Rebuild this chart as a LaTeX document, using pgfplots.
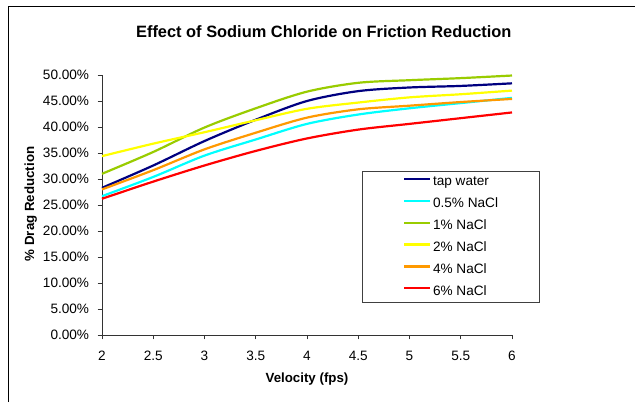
\documentclass[border=0pt]{standalone}
\usepackage{pgfplots}
\pgfplotsset{compat=1.18}
\usepackage{fontspec}
\setmainfont{Liberation Sans}
\definecolor{cNavy}{RGB}{0,0,128}
\definecolor{cCyan}{RGB}{0,255,255}
\definecolor{cGreen}{RGB}{153,204,0}
\definecolor{cYellow}{RGB}{255,255,0}
\definecolor{cOrange}{RGB}{255,153,0}
\definecolor{cRed}{RGB}{255,0,0}
\begin{document}
\begin{tikzpicture}
\useasboundingbox (0pt,0pt) rectangle (635pt,402pt);
\fill[white] (0pt,0pt) rectangle (635pt,402pt);
\draw[black, line width=1pt] (8.3pt,0pt) -- (8.3pt,395.3pt) -- (636pt,395.3pt);
\begin{axis}[
  at={(102pt,67pt)}, anchor=south west,
  scale only axis, width=410pt, height=260pt,
  xmin=2, xmax=6, ymin=0, ymax=50,
  axis x line=bottom, axis y line=left,
  axis line style={-, black!80, line width=0.8pt},
  tick style={black!80, line width=0.8pt},
  tick align=outside, major tick length=4.4pt,
  xtick={2,2.5,...,6}, ytick={0,5,...,50},
  /pgf/number format/assume math mode=true,
  tick label style={font=\fontsize{13.6}{15}\selectfont},
  yticklabel={\pgfmathprintnumber[fixed,fixed zerofill,precision=2]{\tick}\%},
  yticklabel style={xshift=-5pt},
  xticklabel style={/pgf/number format/fixed, yshift=-8pt},
  title={\bfseries Effect of Sodium Chloride on Friction Reduction},
  title style={font=\fontsize{16.4}{18}\selectfont, at={(rel axis cs:0.541,1.142)}, anchor=center},
  xlabel={\bfseries Velocity (fps)},
  ylabel={\bfseries \% Drag Reduction},
  label style={font=\fontsize{13.3}{15}\selectfont},
  xlabel style={at={(rel axis cs:0.5,-0.169)}, anchor=center},
  ylabel style={at={(rel axis cs:-0.174,0.504)}, anchor=center, rotate=0},
  legend style={at={(rel axis cs:0.634,0.631)}, anchor=north west,
    draw=black!75, line width=0.8pt, inner xsep=41pt, inner ysep=5pt,
    row sep=9.9pt, column sep=1.5pt,
    nodes={inner sep=0pt, text height=9.5pt, text depth=2.5pt, font=\fontsize{13.6}{15}\selectfont}},
  legend cell align=left,
  legend image code/.code={\draw[#1, line width=2.2pt] (0pt,3.5pt) -- (26pt,3.5pt);},
  every axis plot/.append style={line width=2.2pt, smooth, tension=0.5, mark=none},
  clip=false,
]
\addplot[cNavy] coordinates {(2,28.3) (2.5,32.6) (3,37.3) (3.5,41.4) (4,45.0) (4.5,46.9) (5,47.6) (5.5,47.9) (6,48.4)};
\addlegendentry{tap water}
\addplot[cCyan] coordinates {(2,26.7) (2.5,30.4) (3,34.5) (3.5,37.6) (4,40.6) (4.5,42.4) (5,43.6) (5.5,44.6) (6,45.6)};
\addlegendentry{0.5\% NaCl}
\addplot[cGreen] coordinates {(2,31.0) (2.5,35.2) (3,39.9) (3.5,43.6) (4,46.8) (4.5,48.5) (5,49.0) (5.5,49.4) (6,49.9)};
\addlegendentry{1\% NaCl}
\addplot[cYellow] coordinates {(2,34.4) (2.5,36.8) (3,39.0) (3.5,41.3) (4,43.5) (4.5,44.7) (5,45.7) (5.5,46.3) (6,47.0)};
\addlegendentry{2\% NaCl}
\addplot[cOrange] coordinates {(2,28.0) (2.5,31.7) (3,35.7) (3.5,38.9) (4,41.8) (4.5,43.4) (5,44.1) (5.5,44.8) (6,45.4)};
\addlegendentry{4\% NaCl}
\addplot[cRed] coordinates {(2,26.2) (2.5,29.5) (3,32.6) (3.5,35.4) (4,37.8) (4.5,39.5) (5,40.6) (5.5,41.7) (6,42.8)};
\addlegendentry{6\% NaCl}
\end{axis}
\end{tikzpicture}
\end{document}
